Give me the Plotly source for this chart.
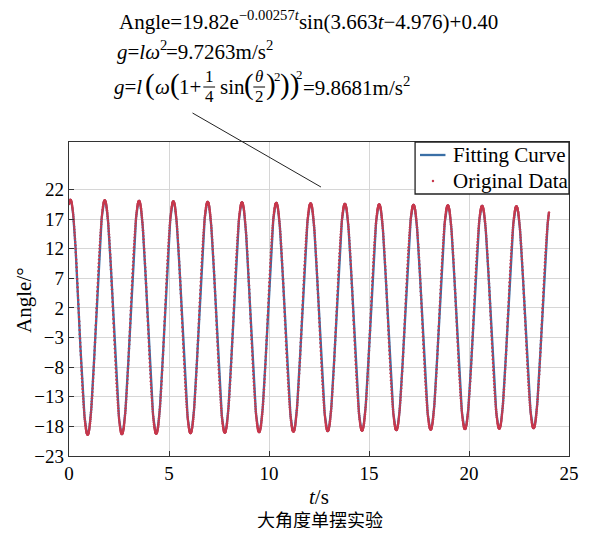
import numpy as np
import plotly.graph_objects as go

# ---- data (fit parameters printed on the chart) ----
fit_amplitude = 19.82
fit_decay = 0.00257
fit_omega = 3.663
fit_phase = 4.976
fit_offset = 0.40
t_start, t_end, t_step = 0.0, 24.0, 0.01

x_ticks = [0, 5, 10, 15, 20, 25]
y_ticks = [-23, -18, -13, -8, -3, 2, 7, 12, 17, 22]
x_range = [0, 25]
y_range = [-23, 30]
series_names = ["Fitting Curve", "Original Data"]

t = np.arange(t_start, t_end + t_step / 2, t_step)
angle_fit = fit_amplitude * np.exp(-fit_decay * t) * np.sin(fit_omega * t - fit_phase) + fit_offset
angle_data = angle_fit.copy()

# page body has an 8px margin on every side: size the figure to fit inside it
OFF = 8
WIN_W, WIN_H = 591, 536
W, H = WIN_W - 2 * OFF, WIN_H - 2 * OFF
L, R, T, B = 69, 579, 142, 456          # plot box in window pixels
BLUE = "#3a6fa6"
RED = "#c8384c"
SERIF = "Liberation Serif"


def px(x):
    return (x - L) / (R - L)


def py(y):
    return (B - y) / (B - T)


fig = go.Figure()
fig.add_trace(go.Scatter(x=t, y=angle_fit, mode="lines", name=series_names[0],
                         line=dict(color=BLUE, width=2.3), showlegend=False))
fig.add_trace(go.Scatter(x=t, y=angle_data, mode="markers", name=series_names[1],
                         marker=dict(color=RED, size=2.4, line=dict(width=0)), showlegend=False))

ann = []


def txt(x, y, s, size=21, xanchor="left", family=SERIF, angle=0):
    ann.append(dict(x=px(x), y=py(y), xref="paper", yref="paper", text=s, showarrow=False,
                    xanchor=xanchor, yanchor="middle", textangle=angle, borderpad=0,
                    font=dict(family=family, size=size, color="black")))


txt(119, 21, "Angle=19.82e<sup>−0.00257<i>t</i></sup>sin(3.663<i>t</i>−4.976)+0.40", size=21)
txt(117, 51, "<i>g</i>=<i>lω</i><sup>2</sup>", size=21)
txt(167, 51, "=9.7263m/s<sup>2</sup>", size=21)
# third line built from pieces
txt(114, 87, "<i>g</i>=<i>l</i>", size=21)
txt(146, 85, "(", size=29)
txt(156, 87, "<i>ω</i>", size=21)
txt(171, 85, "(", size=29)
txt(180, 87, "1+", size=21)
txt(212, 77, "1", size=17, xanchor="center")
txt(212, 96, "4", size=17, xanchor="center")
txt(222, 87, "sin", size=21)
txt(246, 85, "(", size=29)
txt(263, 77, "<i>θ</i>", size=17, xanchor="center")
txt(263, 96, "2", size=17, xanchor="center")
txt(269, 85, ")", size=29)
txt(277, 76, "2", size=13)
txt(283, 85, "))", size=29)
txt(300, 74, "2", size=13)
txt(307, 87, "=9.8681m/s<sup>2</sup>", size=21)

# axis titles / caption
txt(23, 300, "Angle/°", size=21, xanchor="center", angle=-90)
txt(324, 497, "<i>t</i>/s", size=21, xanchor="center")
txt(325, 519, "大角度单摆实验", size=18, xanchor="center", family="Noto Sans CJK SC")

# legend (drawn by hand to match the compact box)
txt(460, 155, series_names[0], size=21)
txt(460, 181, series_names[1], size=21)

shapes = [
    dict(type="line", xref="paper", yref="paper", x0=px(206), x1=px(218), y0=py(87), y1=py(87),
         line=dict(color="black", width=1)),
    dict(type="line", xref="paper", yref="paper", x0=px(257), x1=px(269), y0=py(87), y1=py(87),
         line=dict(color="black", width=1)),
    dict(type="line", xref="paper", yref="paper", x0=px(195), x1=px(326), y0=py(113), y1=py(187),
         line=dict(color="#222222", width=1)),
    dict(type="rect", xref="paper", yref="paper", x0=px(422), x1=px(579), y0=py(194), y1=py(142),
         fillcolor="white", line=dict(color="#222222", width=1.3), layer="above"),
    dict(type="line", xref="paper", yref="paper", x0=px(427), x1=px(453), y0=py(155), y1=py(155),
         line=dict(color=BLUE, width=2.3), layer="above"),
    dict(type="circle", xref="paper", yref="paper", x0=px(439), x1=px(441.5), y0=py(182.2), y1=py(179.7),
         fillcolor=RED, line=dict(width=0), layer="above"),
]

axis_common = dict(showgrid=True, gridcolor="#d6d6d6", gridwidth=1, zeroline=False,
                   showline=True, linecolor="#333333", linewidth=1.4, mirror=True,
                   ticks="inside", ticklen=5, tickcolor="#333333", tickwidth=1.2,
                   ticklabeloverflow="allow",
                   tickfont=dict(family=SERIF, size=19, color="black"))

fig.update_layout(
    width=W, height=H,
    margin=dict(l=L - OFF, r=W - (R - OFF), t=T - OFF, b=H - (B - OFF)),
    paper_bgcolor="white", plot_bgcolor="white",
    xaxis=dict(range=x_range, tickvals=x_ticks, **axis_common),
    yaxis=dict(range=y_range, tickvals=y_ticks, **axis_common),
    annotations=ann,
    shapes=shapes,
    showlegend=False,
)

fig.write_html(
    "out.html",
    config={"displayModeBar": False},
    post_script="document.querySelectorAll('.main-svg').forEach(function(s){s.style.overflow='visible';});",
)
